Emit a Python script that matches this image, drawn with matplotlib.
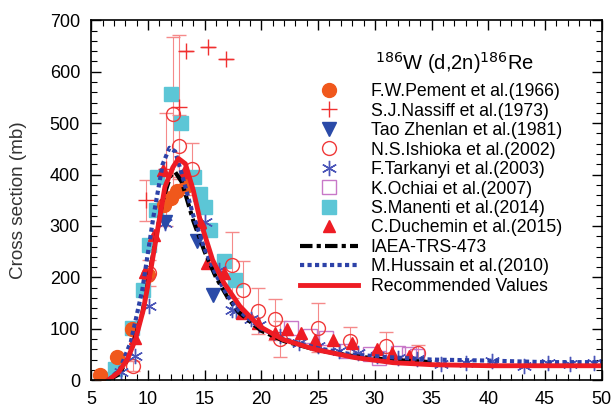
import matplotlib
matplotlib.use("Agg")
import matplotlib.pyplot as plt
from matplotlib.ticker import MultipleLocator
from matplotlib.lines import Line2D

plt.rcParams['font.family'] = ['Liberation Sans', 'DejaVu Sans']

# experimental data (energy MeV, cross section mb)
pement_x = [5.8, 7.3, 8.6, 10.0, 11.4, 12.0, 12.6, 13.4]
pement_y = [10, 45, 100, 205, 340, 355, 368, 378]

nassiff_x = [9.8, 11.6, 12.7, 13.4, 15.3, 16.9]
nassiff_y = [350, 410, 532, 640, 648, 624]
nassiff_err = [40, 110, 140, 0, 0, 0]

tao_x = [11.5, 14.3, 15.7]
tao_y = [308, 270, 165]

ishioka_x = [8.7, 10.1, 12.2, 12.7, 13.9, 17.4, 18.4, 19.7, 21.2, 21.6, 25.0, 27.8, 31.0, 33.8]
ishioka_y = [28, 208, 518, 455, 411, 224, 176, 134, 118, 80, 102, 76, 66, 53]
ishioka_err = [10, 25, 150, 60, 50, 65, 55, 45, 40, 35, 48, 28, 28, 15]

tarkanyi_x = [7.6, 8.9, 10.1, 11.5, 15.0, 16.3, 17.4, 17.8, 19.1, 19.8, 21.6, 23.3, 25.0,
              26.8, 28.5, 30.2, 32.0, 33.7, 35.8, 38.0, 40.3, 43.1, 45.3, 47.2, 49.3]
tarkanyi_y = [15, 47, 144, 305, 308, 215, 137, 134, 118, 108, 86, 73, 66,
              57, 52, 47, 44, 41, 31, 34, 37, 28, 34, 31, 34]

ochiai_x = [22.6, 24.3, 25.7, 27.5, 29.6, 30.4, 32.0, 33.0, 33.7]
ochiai_y = [102, 86, 82, 57, 50, 44, 53, 50, 47]

manenti_x = [6.0, 7.1, 8.6, 9.6, 10.1, 10.7, 10.8, 12.0, 12.9, 14.1, 14.6, 15.0, 15.5, 16.7, 17.7]
manenti_y = [2, 21, 102, 176, 263, 331, 395, 556, 501, 395, 363, 337, 292, 231, 195]

duchemin_x = [8.9, 9.7, 10.5, 11.3, 13.2, 14.6, 15.2, 16.7, 18.3, 19.7, 21.2, 22.3, 23.5,
              24.7, 26.3, 28.0, 30.2, 31.5, 33.0]
duchemin_y = [82, 211, 282, 408, 405, 308, 228, 208, 131, 112, 92, 99, 92,
              79, 79, 73, 60, 53, 47]

# evaluated curves
iaea_x = [6.5, 7.5, 8.5, 9.5, 10.5, 11.3, 12.0, 12.4, 13.0, 14.0, 15.0, 16.0, 17.0,
          18.0, 20.0, 22.0, 25.0, 28.0, 31.0, 35.0]
iaea_y = [0, 12, 55, 130, 250, 350, 398, 405, 385, 310, 250, 200, 162,
          132, 96, 76, 58, 47, 40, 35]

hussain_x = [6.5, 7.5, 8.5, 9.5, 10.5, 11.3, 11.9, 12.4, 13.0, 14.0, 15.0, 16.0, 17.0,
             18.0, 20.0, 22.0, 25.0, 28.0, 31.0, 35.0, 40.0, 45.0, 50.0]
hussain_y = [0, 20, 75, 175, 320, 420, 452, 445, 400, 320, 255, 205, 165,
             135, 100, 80, 62, 50, 45, 40, 38, 35, 35]

rec_x = [6.5, 7.4, 8.2, 8.9, 9.6, 10.3, 10.8, 11.5, 12.2, 12.7, 13.3, 14.0, 14.6, 15.7,
         16.7, 18.1, 19.8, 21.9, 24.7, 28.2, 31.6, 35.1, 40.3, 45.5, 50.0]
rec_y = [0, 15, 41, 79, 137, 221, 286, 376, 414, 431, 421, 369, 311, 234,
         189, 144, 105, 79, 60, 44, 34, 30, 28, 28, 28]

fig = plt.figure(figsize=(6.16, 4.07), dpi=100)
ax = fig.add_axes([0.148, 0.066, 0.829, 0.884])

errc = '#f58a8a'
ax.errorbar(ishioka_x, ishioka_y, yerr=ishioka_err, fmt='none', ecolor=errc, elinewidth=0.8, capsize=5)
ax.errorbar(nassiff_x, nassiff_y, yerr=nassiff_err, fmt='none', ecolor=errc, elinewidth=0.8, capsize=5)

ax.plot(manenti_x, manenti_y, 's', color='#5cc6d6', ms=10.5, ls='none')
ax.plot(pement_x, pement_y, 'o', color='#f0581c', ms=10, ls='none')
ax.plot(ochiai_x, ochiai_y, 's', mfc='none', mec='#c878c8', ms=10, mew=1.0, ls='none')
ax.plot(ishioka_x, ishioka_y, 'o', mfc='none', mec='#f03a3a', ms=10, mew=1.0, ls='none')
ax.plot(tarkanyi_x, tarkanyi_y, marker=(6, 2, 0), color='#4a55b8', ms=11, mew=1.0, ls='none')
ax.plot(tao_x, tao_y, 'v', color='#2a4aa8', ms=10, ls='none')
ax.plot(nassiff_x, nassiff_y, '+', color='#f03030', ms=12, mew=1.0, ls='none')
ax.plot(duchemin_x, duchemin_y, '^', color='#ee1c24', ms=9, ls='none')

ax.plot(iaea_x, iaea_y, color='black', lw=3, dashes=(3, 1, 1, 1))
ax.plot(hussain_x, hussain_y, color='#2d42a8', lw=3, ls=(0, (1, 0.8)))
ax.plot(rec_x, rec_y, color='#ee1c24', lw=3.5)

ax.set_xlim(5, 50)
ax.set_ylim(0, 700)
ax.xaxis.set_major_locator(MultipleLocator(5))
ax.xaxis.set_minor_locator(MultipleLocator(1))
ax.yaxis.set_major_locator(MultipleLocator(100))
ax.yaxis.set_minor_locator(MultipleLocator(20))
ax.tick_params(which='both', direction='in', top=True, right=True, labelsize=13, pad=8)
ax.tick_params(which='major', length=7, width=1)
ax.tick_params(which='minor', length=4, width=0.8)
for s in ax.spines.values():
    s.set_linewidth(1.2)
ax.set_ylabel('Cross section (mb)', fontsize=13.6, color='#333333', labelpad=16)

ax.text(0.712, 0.88, r'$^{186}$W (d,2n)$^{186}$Re', transform=ax.transAxes,
        ha='center', va='center', fontsize=14.5)

handles = [
    Line2D([], [], marker='o', color='#f0581c', ms=10, ls='none'),
    Line2D([], [], marker='+', color='#f03030', ms=12, mew=1.0, ls='none'),
    Line2D([], [], marker='v', color='#2a4aa8', ms=10, ls='none'),
    Line2D([], [], marker='o', mfc='none', mec='#f03a3a', ms=10, ls='none'),
    Line2D([], [], marker=(6, 2, 0), color='#4a55b8', ms=11, ls='none'),
    Line2D([], [], marker='s', mfc='none', mec='#c878c8', ms=10, ls='none'),
    Line2D([], [], marker='s', color='#5cc6d6', ms=10, ls='none'),
    Line2D([], [], marker='^', color='#ee1c24', ms=9, ls='none'),
    Line2D([], [], color='black', lw=3, dashes=(3, 1, 1, 1)),
    Line2D([], [], color='#2d42a8', lw=3, ls=(0, (1, 0.8))),
    Line2D([], [], color='#ee1c24', lw=3.5),
]
labels = ['F.W.Pement et al.(1966)', 'S.J.Nassiff et al.(1973)', 'Tao Zhenlan et al.(1981)',
          'N.S.Ishioka et al.(2002)', 'F.Tarkanyi et al.(2003)', 'K.Ochiai et al.(2007)',
          'S.Manenti et al.(2014)', 'C.Duchemin et al.(2015)', 'IAEA-TRS-473',
          'M.Hussain et al.(2010)', 'Recommended Values']
ax.legend(handles, labels, loc='upper left', bbox_to_anchor=(0.395, 0.845), frameon=False,
          fontsize=12.7, handlelength=3.3, handletextpad=0.72, labelspacing=0.14,
          borderaxespad=0)

fig.savefig('out.png', dpi=100)
